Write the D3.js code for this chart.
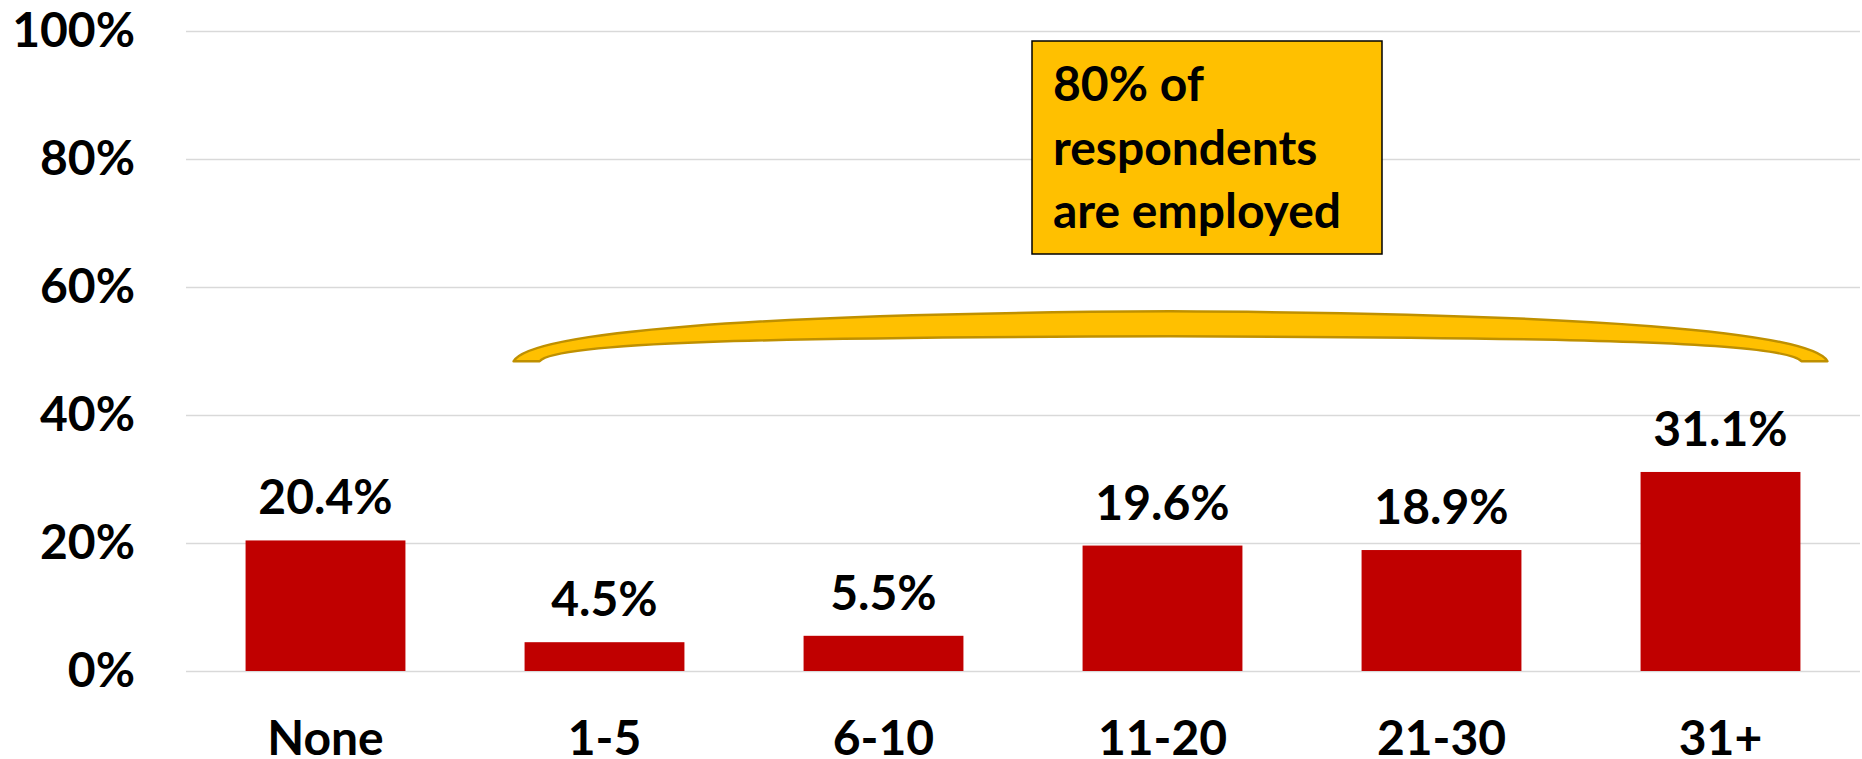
<!DOCTYPE html>
<html>
<head>
<meta charset="utf-8">
<script src="https://cdn.jsdelivr.net/npm/d3@7"></script>
<style>
  body { margin: 0; background: #fff; }
  svg text { font-family: Lato, "Open Sans", sans-serif; font-weight: 700; fill: #000; }
</style>
</head>
<body>
<div id="chart"></div>
<script>
// years of experience buckets and the share of respondents in each
var categories = ["None", "1-5", "6-10", "11-20", "21-30", "31+"];
var shares = [20.4, 4.5, 5.5, 19.6, 18.9, 31.1];
var yTicks = [0, 20, 40, 60, 80, 100];
var calloutLines = ["80% of", "respondents", "are employed"];

var width = 1862, height = 759;
var fontSize = 48;

var svg = d3.select("#chart").append("svg")
  .attr("width", width)
  .attr("height", height);

var x = d3.scaleBand()
  .domain(categories)
  .range([186, 1860])
  .paddingInner(0.427)
  .paddingOuter(0.2135);

var y = d3.scaleLinear()
  .domain([0, 100])
  .range([671, 31]);

// gridlines + y labels
var yAxis = svg.append("g")
  .attr("transform", "translate(186,0)")
  .call(d3.axisLeft(y)
    .tickValues(yTicks)
    .tickSize(-(1860 - 186))
    .tickPadding(51)
    .tickFormat(function (d) { return d + "%"; }));
yAxis.select(".domain").remove();
yAxis.selectAll(".tick line")
  .attr("stroke", "#d9d9d9")
  .attr("stroke-width", 1.5);
yAxis.selectAll(".tick text")
  .attr("font-size", fontSize)
  .attr("font-family", null);

// bars
svg.append("g").selectAll("rect")
  .data(shares)
  .enter().append("rect")
  .attr("x", function (d, i) { return x(categories[i]); })
  .attr("y", function (d) { return y(d); })
  .attr("width", x.bandwidth())
  .attr("height", function (d) { return y(0) - y(d); })
  .attr("fill", "#c00000");

// value labels
svg.append("g").selectAll("text")
  .data(shares)
  .enter().append("text")
  .attr("x", function (d, i) { return x(categories[i]) + x.bandwidth() / 2; })
  .attr("y", function (d) { return y(d) - 26; })
  .attr("text-anchor", "middle")
  .attr("font-size", fontSize)
  .text(function (d) { return d.toFixed(1) + "%"; });

// category labels
var xAxis = svg.append("g")
  .attr("transform", "translate(0," + y(0) + ")")
  .call(d3.axisBottom(x).tickSize(0).tickPadding(50));
xAxis.select(".domain").remove();
xAxis.selectAll(".tick text")
  .attr("font-size", fontSize)
  .attr("font-family", null);

// the brace over the employed groups
var bx0 = x("1-5") - 11,
  bx1 = x("31+") + x.bandwidth() + 27,
  mid = (bx0 + bx1) / 2,
  yBase = y(48.4), yTop = y(56.2), yInner = y(52.3);

var brace = d3.path();
brace.moveTo(bx0, yBase);
brace.bezierCurveTo(bx0 + 16, yBase - 29, bx0 + 236, yTop + 2, mid, yTop);
brace.bezierCurveTo(bx1 - 236, yTop + 2, bx1 - 16, yBase - 29, bx1, yBase);
brace.lineTo(bx1 - 26, yBase);
brace.bezierCurveTo(bx1 - 42, yBase - 19, bx1 - 246, yInner + 1, mid, yInner);
brace.bezierCurveTo(bx0 + 246, yInner + 1, bx0 + 42, yBase - 19, bx0 + 26, yBase);
brace.closePath();

svg.append("path")
  .attr("d", brace.toString())
  .attr("fill", "#ffc000")
  .attr("stroke", "#bf9000")
  .attr("stroke-width", 2.5)
  .attr("stroke-linejoin", "round");

// callout box
var callout = svg.append("g").attr("transform", "translate(1032,41)");
callout.append("rect")
  .attr("width", 350)
  .attr("height", 213)
  .attr("fill", "#ffc000")
  .attr("stroke", "#000")
  .attr("stroke-width", 1.5);
callout.selectAll("text")
  .data(calloutLines)
  .enter().append("text")
  .attr("x", 21)
  .attr("y", function (d, i) { return 60 + i * 63.5; })
  .attr("font-size", fontSize)
  .text(function (d) { return d; });
</script>
</body>
</html>
